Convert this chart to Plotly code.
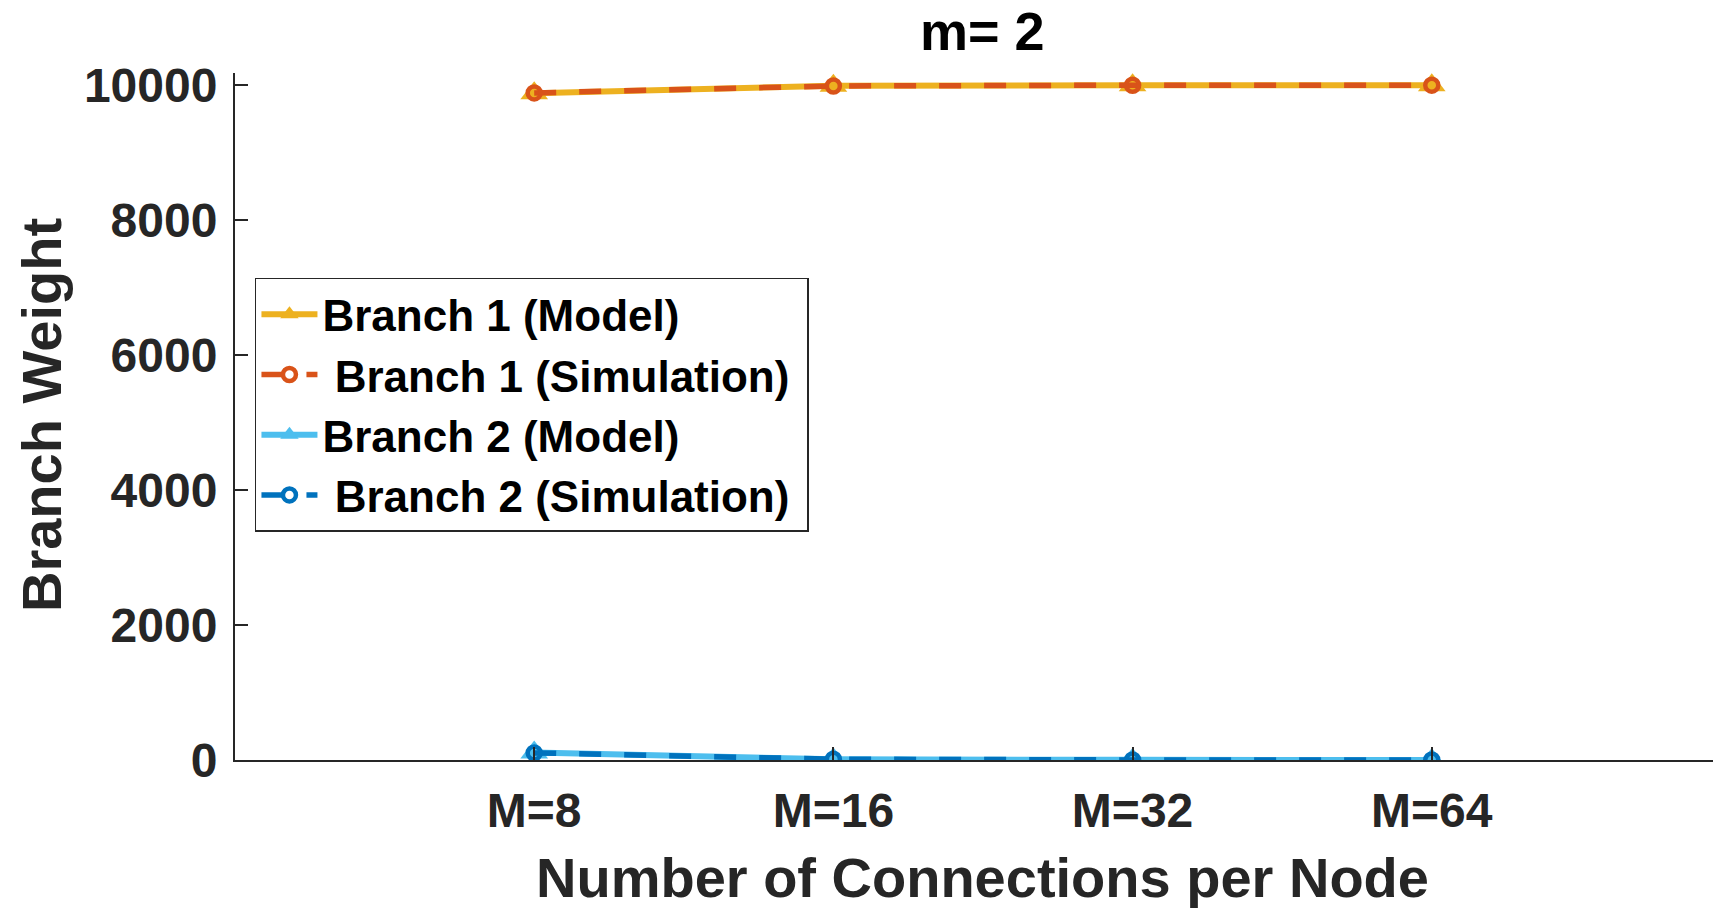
import plotly.graph_objects as go

# Categories on the x axis and branch weights per series
categories = ["M=8", "M=16", "M=32", "M=64"]
x_pos = [1, 2, 3, 4]
branch1_model = [9880, 9990, 9998, 10000]
branch1_sim = [9885, 9988, 9999, 10000]
branch2_model = [110, 10, 2, 0]
branch2_sim = [105, 12, 1, 0]

y_ticks = [0, 2000, 4000, 6000, 8000, 10000]
y_tick_text = ["0", "2000", "4000", "6000", "8000", "10000"]

C_YEL = "#EDB120"
C_ORA = "#D95319"
C_LBL = "#4DBEEE"
C_BLU = "#0072BD"
AX = "#262626"
FONT = "Liberation Sans, Arial, Helvetica, sans-serif"

fig = go.Figure()


def model_trace(y, color, name):
    return go.Scatter(
        x=x_pos, y=y, name=name, mode="lines+markers",
        line=dict(color=color, width=6),
        marker=dict(symbol="triangle-up", size=24, color=color),
    )


def sim_trace(y, color, name):
    return go.Scatter(
        x=x_pos, y=y, name=name, mode="lines+markers",
        line=dict(color=color, width=5.5, dash="22px,23px"),
        marker=dict(symbol="circle-open", size=13, color=color,
                    line=dict(color=color, width=4.5)),
    )


fig.add_trace(model_trace(branch1_model, C_YEL, "Branch 1 (Model)"))
fig.add_trace(sim_trace(branch1_sim, C_ORA, "\u00a0Branch 1 (Simulation)\u00a0"))
fig.add_trace(model_trace(branch2_model, C_LBL, "Branch 2 (Model)"))
fig.add_trace(sim_trace(branch2_sim, C_BLU, "\u00a0Branch 2 (Simulation)\u00a0"))

fig.update_layout(
    width=1713, height=908,
    margin=dict(l=235, r=0, t=73, b=148),
    paper_bgcolor="white", plot_bgcolor="white",
    font=dict(family=FONT, color=AX, size=48, weight="bold"),
    showlegend=True,
    legend=dict(
        x=0.0135, y=0.702, xanchor="left", yanchor="top",
        bgcolor="white", bordercolor=AX, borderwidth=1.5,
        font=dict(family=FONT, size=44, color="black", weight="bold"),
        tracegroupgap=0, itemwidth=56,
    ),
    xaxis=dict(
        range=[0, 4.94], tickvals=x_pos, ticktext=categories,
        showgrid=False, zeroline=False,
        showline=True, linecolor=AX, linewidth=2,
        ticks="inside", ticklen=13, tickwidth=2, tickcolor=AX,
        tickfont=dict(family=FONT, size=48, color=AX, weight="bold"),
        ticklabelstandoff=7,
    ),
    yaxis=dict(
        range=[0, 10180], tickvals=y_ticks, ticktext=y_tick_text,
        showgrid=False, zeroline=False,
        showline=True, linecolor=AX, linewidth=2,
        ticks="inside", ticklen=13, tickwidth=2, tickcolor=AX,
        tickfont=dict(family=FONT, size=48, color=AX, weight="bold"),
        ticklabelstandoff=6,
    ),
    annotations=[
        dict(text="m= 2", xref="paper", yref="paper", x=0.506, y=1.0,
             yshift=42, xanchor="center", yanchor="middle", showarrow=False,
             font=dict(family=FONT, size=54, color="black", weight="bold")),
        dict(text="Number of Connections per Node", xref="paper", yref="paper",
             x=0.506, y=0.0, yshift=-117, xanchor="center", yanchor="middle",
             showarrow=False,
             font=dict(family=FONT, size=56, color=AX, weight="bold")),
        dict(text="Branch Weight", xref="paper", yref="paper",
             x=-0.1313, y=0.502, textangle=-90, xanchor="center",
             yanchor="middle", showarrow=False,
             font=dict(family=FONT, size=56, color=AX, weight="bold")),
    ],
)

fig.write_html("out.html")
